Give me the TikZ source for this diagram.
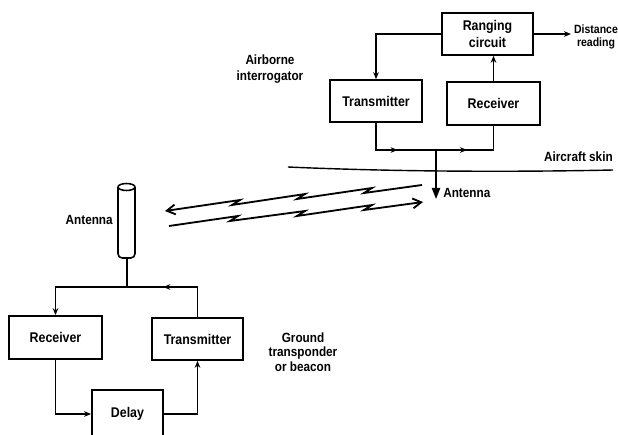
\documentclass[tikz,border=0pt]{standalone}
\usepackage{fontspec}
\setmainfont{Liberation Sans}[FakeStretch=0.88]
\usepackage{tikz}
\usetikzlibrary{arrows.meta,decorations.markings}
\tikzset{
  box/.style={draw, line width=1.1pt, font=\bfseries\fontsize{10}{12}\selectfont, align=center, inner sep=1pt},
  lbl/.style={font=\bfseries\fontsize{9.5}{10.5}\selectfont, inner sep=0pt},
  wire/.style={line width=1.1pt},
  tip/.style={-{Stealth[length=5pt,width=4pt]}},
  midarrow/.style={postaction={decorate},decoration={markings,mark=at position #1 with {\arrow{Stealth[length=5pt,width=4pt]}}}}
}

\begin{document}
\begin{tikzpicture}[x=0.025cm,y=-0.025cm]
        \useasboundingbox (0,0) rectangle (618,434);
        % airborne interrogator
        \node[box, minimum width=2.28cm, minimum height=1.05cm] (ranging) at (487.5,34) {Ranging\\circuit};
        \node[box, minimum width=2.3cm, minimum height=1.05cm] (atx) at (376,101) {Transmitter};
        \node[box, minimum width=2.33cm, minimum height=1.08cm] (arx) at (493.5,103.5) {Receiver};
        \node[lbl, align=center, font=\bfseries\fontsize{8.5}{9.3}\selectfont] (dist) at (596,36.5) {Distance\\reading};
        \node[lbl, align=center, font=\bfseries\fontsize{9.5}{11.3}\selectfont] (airborne) at (270,69) {Airborne\\interrogator};
        \coordinate (ajoin) at (436,150);
        \coordinate (aant) at (436,199);
        \draw[wire, tip] (ranging.west) -| (atx.north);
        \draw[wire, tip] (arx.north) -- (arx.north |- ranging.south);
        \draw[wire, tip] (ranging.east) -- ([xshift=-2pt]dist.west |- ranging.east);
        \draw[wire, midarrow=0.56] (atx.south) |- (ajoin);
        \draw[wire, midarrow=0.38] (ajoin) -| (arx.south);
        \draw[wire, -{Triangle[length=8pt,width=6pt]}] (ajoin) -- (aant);
        \node[lbl, anchor=west] (aantlbl) at (443,193) {Antenna};
        % aircraft skin
        \draw[line width=1pt] (288,167) .. controls (400,172) and (520,172) .. (613,170);
        \node[lbl, anchor=east] (skin) at (613,157) {Aircraft skin};
        % radio link
        \draw[line width=1.3pt, line join=miter, {Straight Barb[length=6pt,width=7pt]}-]
            (165,211) -- (240,200) -- (232,205) -- (305,194) -- (297,199)
            -- (372,188) -- (364,193) -- (422,185);
        \draw[line width=1.3pt, line join=miter, -{Straight Barb[length=6pt,width=7pt]}]
            (169,226) -- (238,216) -- (230,221) -- (305,211) -- (297,216)
            -- (372,205) -- (364,210) -- (423,202);
        % ground transponder
        \draw[line width=1.1pt, rounded corners=3pt] (118,187) -- (118,258) -- (135,258) -- (135,187);
        \draw[line width=1.1pt] (126.5,187) ellipse (8.5 and 3.5);
        \coordinate (gantb) at (127,258);
        \coordinate (gjoin) at (127,287);
        \node[lbl, anchor=east] (gantlbl) at (113,220) {Antenna};
        \node[box, minimum width=2.33cm, minimum height=1.08cm] (grx) at (55.5,337.5) {Receiver};
        \node[box, minimum width=2.28cm, minimum height=1.05cm] (gtx) at (197.5,339) {Transmitter};
        \node[box, minimum width=1.78cm, minimum height=1.2cm] (delay) at (127.5,414) {Delay};
        \node[lbl, align=center, font=\bfseries\fontsize{9.5}{10.3}\selectfont] (ground) at (303,352) {Ground\\transponder\\or beacon};
        \draw[wire] (gantb) -- (gjoin);
        \draw[wire, midarrow=0.64] (gtx.north) |- (gjoin);
        \draw[wire, tip] (gjoin) -| (grx.north);
        \draw[wire, tip] (grx.south) |- (delay.west);
        \draw[wire, tip] (delay.east) -| (gtx.south);
\end{tikzpicture}
\end{document}
